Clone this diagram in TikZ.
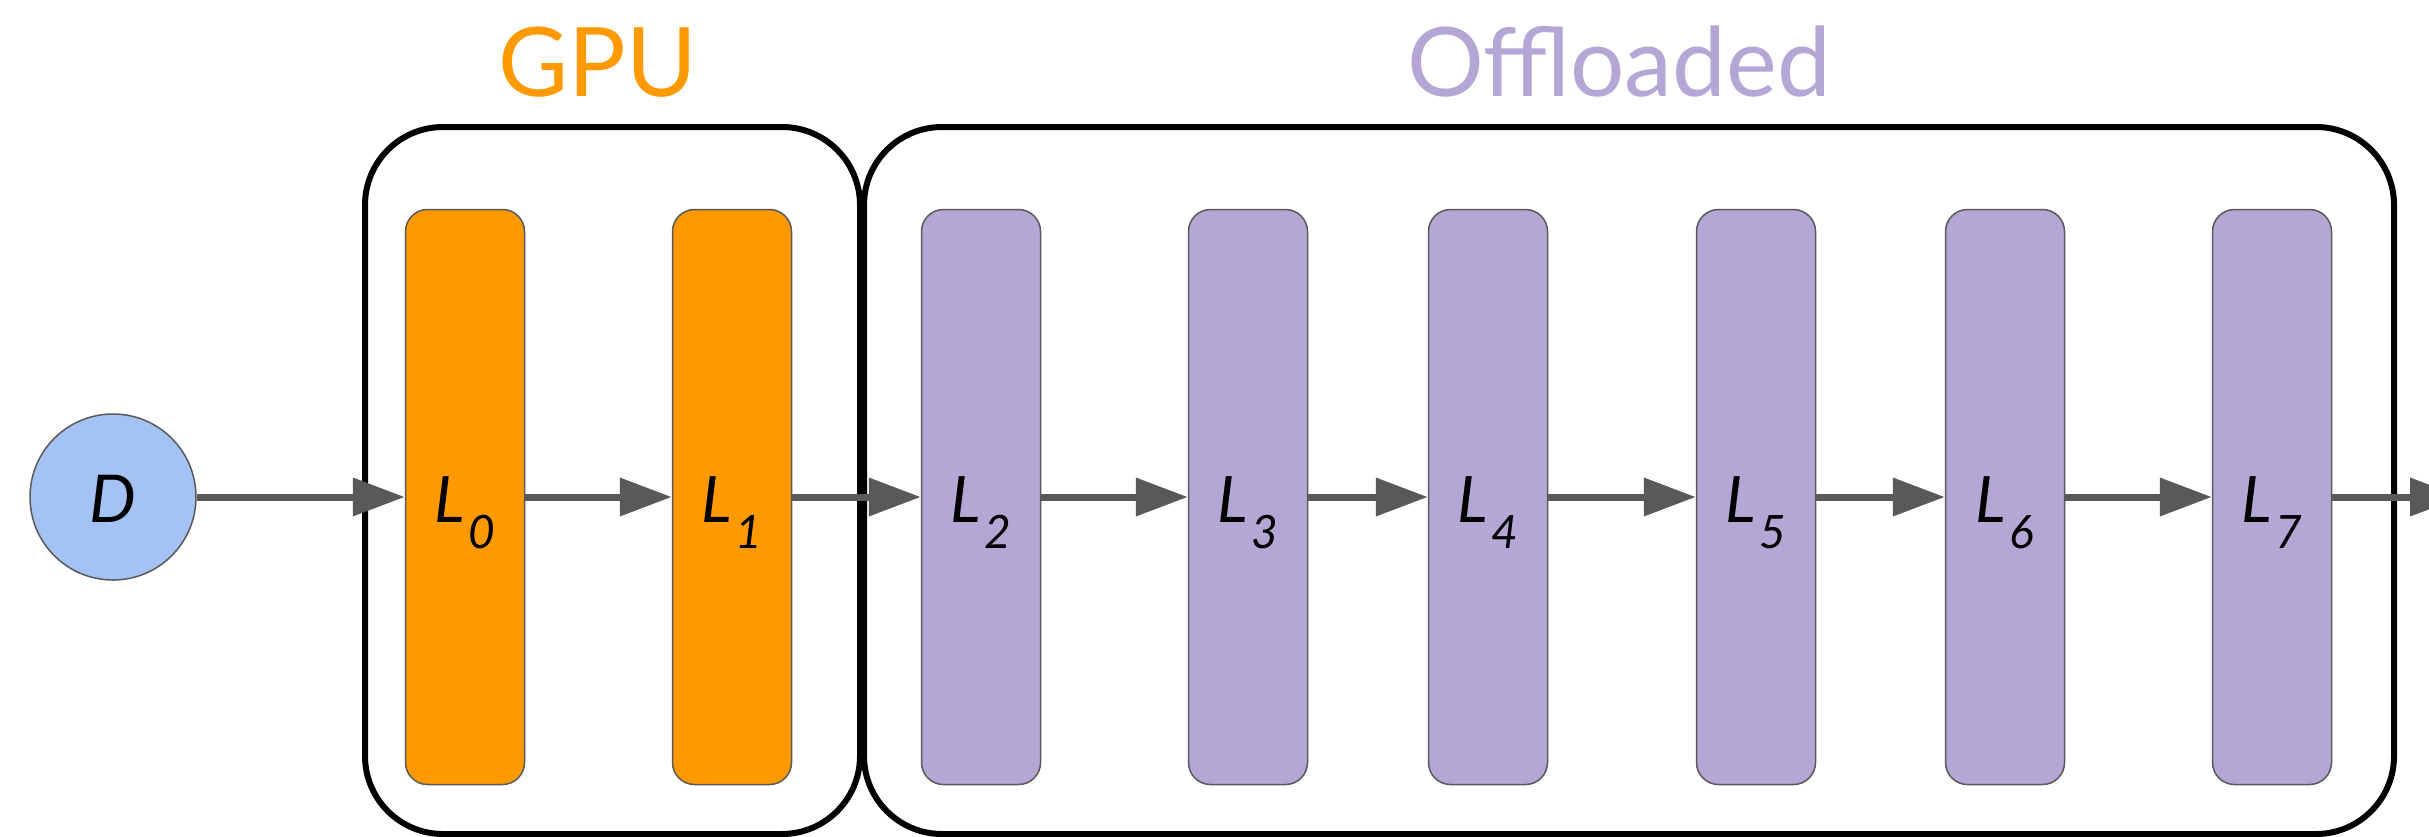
\documentclass[tikz,border=0pt]{standalone}
\usepackage{fontspec}
\setmainfont{Lato}
\usetikzlibrary{arrows.meta}
\definecolor{gpuorange}{HTML}{FF9900}
\definecolor{offpurple}{HTML}{B4A7D6}
\definecolor{datablue}{HTML}{A4C2F4}
\definecolor{edgegray}{HTML}{595959}
\newcommand{\lyr}[1]{\itshape L\kern0.05em\raisebox{-13pt}{\fontsize{23}{23}\selectfont #1}}

\begin{document}
\begin{tikzpicture}[x=0.5pt,y=0.5pt,yscale=-1,
  layer/.style={draw=edgegray, line width=0.75pt, rounded corners=11pt,
    minimum width=59.5pt, minimum height=287.5pt, inner sep=0pt,
    font=\fontsize{32}{32}\selectfont, text height=30pt, text depth=5pt},
  data/.style={circle, draw=edgegray, line width=0.75pt, fill=datablue,
    minimum size=83pt, inner sep=0pt,
    font=\fontsize{33}{33}\selectfont\itshape, text height=30pt, text depth=5pt},
  group/.style={draw=black, line width=3pt, rounded corners=39pt},
  flow/.style={draw=edgegray, line width=3.5pt,
    -{Triangle[length=26pt, width=18.5pt]}},
  title/.style={font=\fontsize{48}{48}\selectfont}]
\fill[white] (0,0) rectangle (2429,836);
\path[use as bounding box] (0,0) rectangle (2429,836);

%Shape: Rounded Rect (GPU group)
\draw[group] (365,127) rectangle (860,834);
%Shape: Rounded Rect (offloaded group)
\draw[group] (864,127) rectangle (2394,834);

% Text Node
\node[title, text=gpuorange] (gputitle) at (598,62) {GPU};
% Text Node
\node[title, text=offpurple] (offtitle) at (1619,62) {Offloaded};

%Shape: Circle
\node[data] (D) at (113,497) {D};

%Shape: layers
\foreach \i/\x/\c in {0/465/gpuorange, 1/732/gpuorange, 2/981/offpurple,
    3/1248/offpurple, 4/1488/offpurple, 5/1756/offpurple,
    6/2005/offpurple, 7/2272/offpurple}
  \node[layer, fill=\c] (L\i) at (\x,497) {\lyr{\i}};

\coordinate (out) at (2462,497);

%Arrows
\draw[flow] (D) -- (L0);
\foreach \i [evaluate=\i as \j using int(\i+1)] in {0,...,6}
  \draw[flow] (L\i) -- (L\j);
\draw[flow] (L7) -- (out);

\end{tikzpicture}
\end{document}
